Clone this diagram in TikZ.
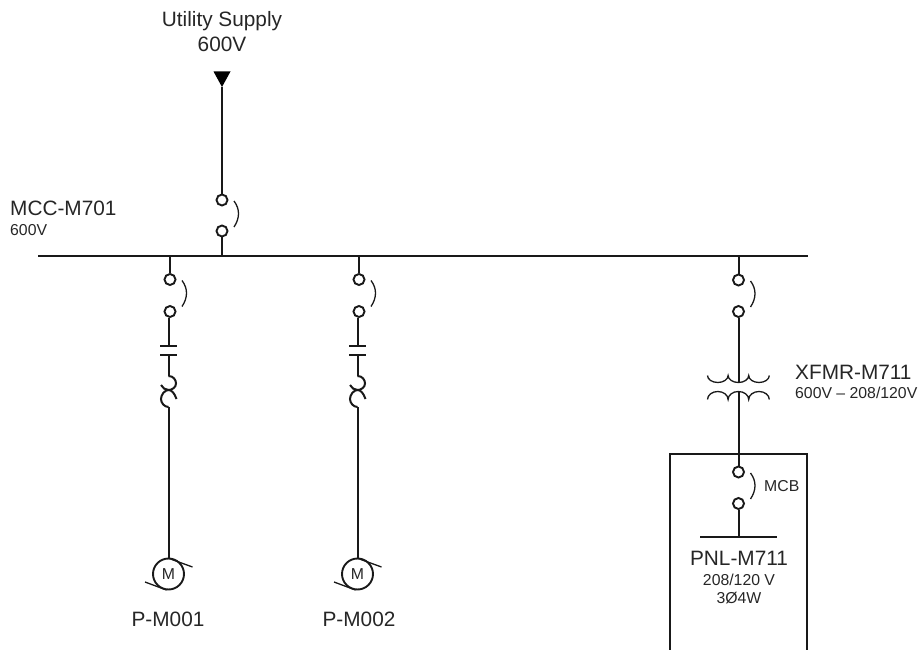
\documentclass[tikz,border=0pt]{standalone}
\usepackage{fontspec}
\setmainfont{Liberation Sans}
\tikzset{
  x=1pt,y=-1pt,
  wire/.style={line width=2pt,black!90},
  thinwire/.style={line width=1.3pt,black!90},
  term/.style={circle,draw=black!90,line width=1.9pt,minimum size=11pt,inner sep=0pt,fill=white},
  lbl/.style={inner sep=0pt,font=\fontsize{20.8}{25}\selectfont,text=black!85,align=center},
  smalllbl/.style={inner sep=0pt,font=\fontsize{15.8}{18}\selectfont,text=black!85,align=center},
  motor/.style={circle,draw=black!90,line width=1.9pt,minimum size=31pt,inner sep=0pt,font=\fontsize{15.8}{18}\selectfont,text=black!85},
}
\newcommand{\breaker}[4]{% x, y top, y bottom, name
  \node[term] (#4a) at (#1,#2) {};
  \node[term] (#4b) at (#1,#3) {};
  \draw[thinwire] (#1+12,#2+1) .. controls (#1+18,#2+9) and (#1+18,#2+18) .. (#1+12,#2+27);
}
\newcommand{\feeder}[3]{% x term, x line, name
  \coordinate (#3bus) at (#1,255.5);
  \breaker{#1}{279.5}{311.5}{#3}
  \draw[wire] (#3bus) -- (#3a);
  \coordinate (#3p) at (#2,346);
  \coordinate (#3q) at (#2,354.5);
  \coordinate (#3f) at (#2,376);
  \coordinate (#3g) at (#2,407);
  \node[motor] (#3m) at (#2,574) {M};
  \draw[wire] (#3b.south -| #3p) -- (#3p);
  \draw[wire] (#3q) -- (#3f);
  \draw[line width=2.6pt,black!90] (#2-8.5,346) -- (#2+8.5,346);
  \draw[wire] (#2-8.5,354.5) -- (#2+8.5,354.5);
  \draw[wire] (#3f) .. controls (#2+5,376) and (#2+7.5,380) .. (#2+7.5,383.5)
     .. controls (#2+7.5,387) and (#2+4,390) .. (#2,390)
     .. controls (#2-3,390) and (#2-6,388) .. (#2-7.5,385);
  \draw[wire] (#2+8,399) .. controls (#2+6,393) and (#2+3,390) .. (#2,390)
     .. controls (#2-4,390) and (#2-7.5,395) .. (#2-7.5,399)
     .. controls (#2-7.5,403) and (#2-4,407) .. (#3g);
  \draw[wire] (#3g) -- (#3m);
  \draw[thinwire] (#2+2,559) -- (#2+24,567);
  \draw[thinwire] (#2-23.5,582) -- (#2-2,590);
}
\begin{document}
\begin{tikzpicture}
\useasboundingbox (0,0) rectangle (919,650);
\coordinate (busL) at (38,255.5);
\coordinate (busR) at (808,255.5);
\draw[wire] (busL) -- (busR);

% utility
\node[lbl] (util) at (222,31.5) {Utility Supply\\600V};
\coordinate (tip) at (222,87);
\fill[black] (213.5,71.5) -- (230.5,71.5) -- (tip) -- cycle;
\breaker{222}{200}{231}{main}
\draw[wire] (tip) -- (maina);
\coordinate (mainbus) at (222,255.5);
\draw[wire] (mainb) -- (mainbus);

\node[lbl,anchor=base west] (mcc) at (10,215) {MCC-M701};
\node[smalllbl,anchor=base west] (mccv) at (10,235) {600V};

\feeder{170}{168.5}{fa}
\feeder{359}{357.5}{fb}
\node[lbl,anchor=base] (labA) at (168,626) {P-M001};
\node[lbl,anchor=base] (labB) at (359,626) {P-M002};

% transformer feeder
\coordinate (xbus) at (738.5,255.5);
\breaker{738.5}{280}{311.5}{xf}
\draw[wire] (xbus) -- (xfa);
\coordinate (xt) at (738.5,382);
\coordinate (xl) at (738.5,392);
\draw[wire] (xfb) -- (xt);
\draw[thinwire] (707.5,375.5) arc[start angle=180,end angle=0,x radius=10.3,y radius=7]
   arc[start angle=180,end angle=0,x radius=10.3,y radius=7]
   arc[start angle=180,end angle=0,x radius=10.3,y radius=7];
\draw[thinwire] (707.5,399.5) arc[start angle=180,end angle=360,x radius=10.3,y radius=8]
   arc[start angle=180,end angle=360,x radius=10.3,y radius=8]
   arc[start angle=180,end angle=360,x radius=10.3,y radius=8];
\node[lbl,anchor=base west] (xfl) at (795,379) {XFMR-M711};
\node[smalllbl,anchor=base west] (xv) at (795,398) {600V – 208/120V};

% panel
\coordinate (pnlA) at (670,651);
\coordinate (pnlB) at (670,453.5);
\coordinate (pnlC) at (807,453.5);
\coordinate (pnlD) at (807,651);
\draw[wire] (pnlA) -- (pnlB) -- (pnlC) -- (pnlD);
\breaker{738.5}{472}{503.5}{pn}
\draw[wire] (xl) -- (pna);
\coordinate (pbus) at (738.5,537);
\draw[wire] (pnb) -- (pbus);
\coordinate (pbarL) at (700,537);
\coordinate (pbarR) at (777,537);
\draw[wire] (pbarL) -- (pbarR);
\node[smalllbl,anchor=base west] (mcb) at (764,491) {MCB};
\node[lbl,anchor=base] (pnl) at (739,565) {PNL-M711};
\node[smalllbl] (pv) at (739,589) {208/120 V\\3Ø4W};
\end{tikzpicture}
\end{document}
